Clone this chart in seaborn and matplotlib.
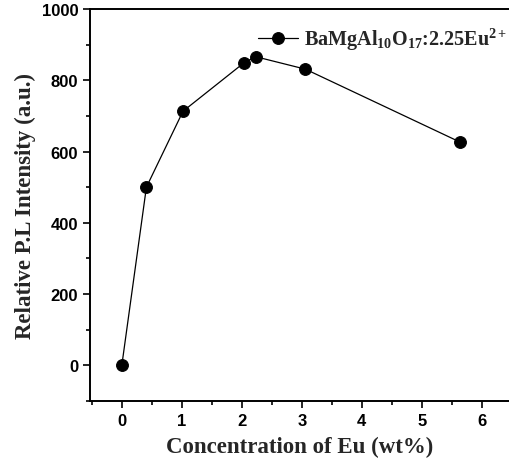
import numpy as np
import pandas as pd
import matplotlib
matplotlib.use("Agg")
import matplotlib.pyplot as plt
import seaborn as sns
from matplotlib.ticker import MultipleLocator

# data
conc = [0.0, 0.41, 1.02, 2.03, 2.23, 3.06, 5.63]
intensity = [0, 500, 713, 848, 866, 831, 627]
series_label = r"BaMgAl$_{\mathbf{10}}$O$_{\mathbf{17}}$:2.25Eu$^{\mathbf{2+}}$"

df = pd.DataFrame({"conc": conc, "intensity": intensity})

sns.set_style("ticks")
plt.rcParams["font.family"] = ["Liberation Sans", "DejaVu Sans"]
plt.rcParams["mathtext.fontset"] = "custom"
plt.rcParams["mathtext.rm"] = "Liberation Serif:bold"
plt.rcParams["mathtext.bf"] = "Liberation Serif:bold"
plt.rcParams["mathtext.it"] = "Liberation Serif:bold"

fig = plt.figure(figsize=(5.1, 4.64), dpi=100)
ax = fig.add_axes([0.1765, 0.1336, 0.8235, 0.845])

sns.lineplot(data=df, x="conc", y="intensity", ax=ax, color="black",
             marker="o", markersize=8.5, markeredgecolor="black",
             linewidth=0.9, label=series_label)

ax.set_xlim(-0.53, 6.47)
ax.set_ylim(-100, 1000)
ax.xaxis.set_major_locator(MultipleLocator(1))
ax.xaxis.set_minor_locator(MultipleLocator(0.5))
ax.yaxis.set_major_locator(MultipleLocator(200))
ax.yaxis.set_minor_locator(MultipleLocator(100))
ax.tick_params(which="both", direction="out", width=1.2, colors="black")
ax.tick_params(which="major", length=5, labelsize=12)
ax.tick_params(which="minor", length=3)
for lab in ax.get_xticklabels() + ax.get_yticklabels():
    lab.set_fontweight("bold")

for s in ax.spines.values():
    s.set_linewidth(1.4)
    s.set_color("black")
ax.spines["right"].set_visible(False)

ax.set_xlabel("Concentration of Eu (wt%)", family="Liberation Serif",
              fontweight="bold", fontsize=16.5, labelpad=6)
ax.set_ylabel("Relative P.L Intensity (a.u.)", family="Liberation Serif",
              fontweight="bold", fontsize=16.5, labelpad=4)

leg = ax.legend(loc="upper right", bbox_to_anchor=(1.037, 1.003), frameon=False,
                handlelength=2.0, handletextpad=0.3,
                prop={"family": "Liberation Serif", "weight": "bold", "size": 14.5})

fig.savefig("out.png", dpi=100)
